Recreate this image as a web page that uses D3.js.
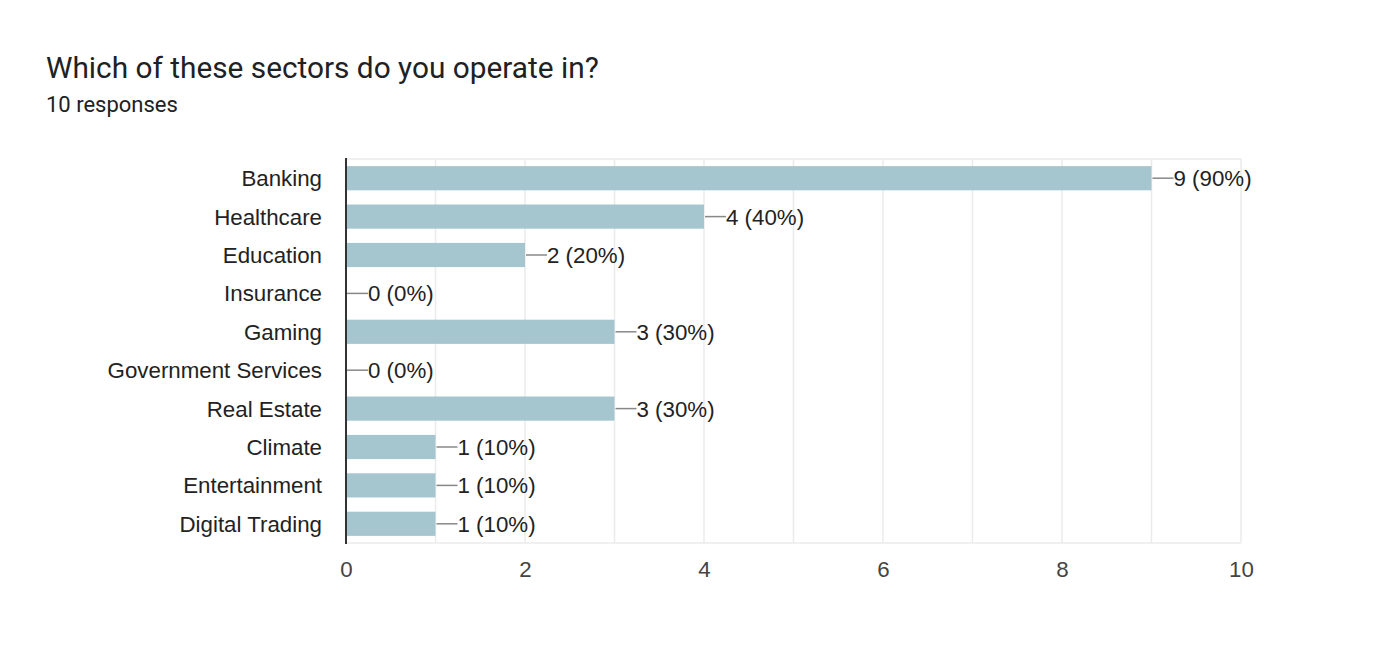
<!DOCTYPE html>
<html><head><meta charset="utf-8">
<script src="https://cdn.jsdelivr.net/npm/d3@7"></script>
<style>body{margin:0;background:#fff}</style>
</head><body>
<svg id="c" width="1384" height="660"></svg>
<script>
const categories = ["Banking","Healthcare","Education","Insurance","Gaming","Government Services","Real Estate","Climate","Entertainment","Digital Trading"];
const values = [9,4,2,0,3,0,3,1,1,1];
const totalResponses = 10;
const tickValues = [0,2,4,6,8,10];
const title = "Which of these sectors do you operate in?";
const subtitle = "10 responses";

(function(){
const svg = d3.select("#c");
svg.append("text").attr("x",46).attr("y",78).attr("font-family","Roboto").attr("font-size",29.8).attr("fill","#202124").text(title);
svg.append("text").attr("x",46).attr("y",112).attr("font-family","Roboto").attr("font-size",22).attr("fill","#202124").text(subtitle);

const pl=346, pr=1241, pt=159, pb=543;
const x = d3.scaleLinear().domain([0,10]).range([pl,pr]);
const y = d3.scaleBand().domain(categories).range([pt,pb]).paddingInner(0.37).paddingOuter(0.185);
const font = "Liberation Sans, Arial, sans-serif";
const fs = 22.3;

const g = svg.append("g");
g.selectAll("line.grid").data(d3.range(1,11)).enter().append("line")
  .attr("x1",d=>x(d)).attr("x2",d=>x(d)).attr("y1",pt).attr("y2",pb)
  .attr("stroke","#ebebeb").attr("stroke-width",1.5);
g.append("line").attr("x1",pl).attr("x2",pr).attr("y1",pt).attr("y2",pt).attr("stroke","#ebebeb").attr("stroke-width",1.5);
g.append("line").attr("x1",pl).attr("x2",pr).attr("y1",pb).attr("y2",pb).attr("stroke","#ebebeb").attr("stroke-width",1.5);

svg.selectAll("rect.bar").data(categories).enter().append("rect")
  .attr("x",x(0)).attr("y",d=>y(d)).attr("width",(d,i)=>x(values[i])-x(0)).attr("height",y.bandwidth())
  .attr("fill","#a6c6cf");

svg.selectAll("line.lead").data(categories).enter().append("line")
  .attr("x1",(d,i)=>x(values[i])+1).attr("x2",(d,i)=>x(values[i])+22)
  .attr("y1",d=>y(d)+y.bandwidth()/2).attr("y2",d=>y(d)+y.bandwidth()/2)
  .attr("stroke","#888").attr("stroke-width",1.5);
svg.selectAll("text.val").data(categories).enter().append("text")
  .attr("x",(d,i)=>x(values[i])+22).attr("y",d=>y(d)+y.bandwidth()/2).attr("dy","0.36em")
  .attr("font-family",font).attr("font-size",fs).attr("fill","#222")
  .text((d,i)=>`${values[i]} (${Math.round(values[i]/totalResponses*100)}%)`);

svg.selectAll("text.cat").data(categories).enter().append("text")
  .attr("x",pl-24).attr("y",d=>y(d)+y.bandwidth()/2).attr("dy","0.36em").attr("text-anchor","end")
  .attr("font-family",font).attr("font-size",fs).attr("fill","#222").text(d=>d);

svg.append("line").attr("x1",pl).attr("x2",pl).attr("y1",pt-1).attr("y2",pb+1).attr("stroke","#333").attr("stroke-width",2);

const xa = svg.append("g").attr("transform",`translate(0,${pb})`)
  .call(d3.axisBottom(x).tickValues(tickValues).tickSize(0).tickPadding(18).tickFormat(d3.format("d")));
xa.select(".domain").remove();
xa.selectAll("text").attr("font-family",font).attr("font-size",fs).attr("fill","#444");
})();
</script>
</body></html>
